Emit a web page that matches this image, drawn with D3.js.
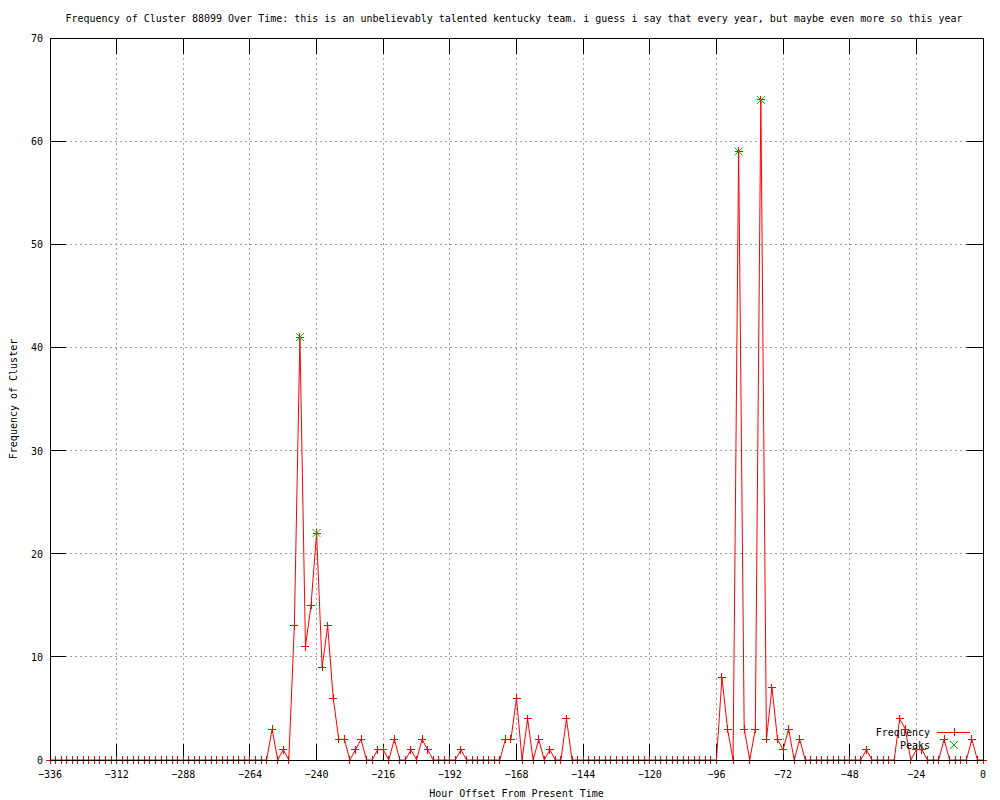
<!DOCTYPE html>
<html>
<head>
<meta charset="utf-8">
<script src="https://cdn.jsdelivr.net/npm/d3@7"></script>
<style>
    body { margin: 0; background: #fff; }
    text { font-family: "DejaVu Sans Mono", monospace; font-size: 10px; fill: #000; }
</style>
</head>
<body>
<div id="chart"></div>
<script>

/* hour offsets, one every 2 hours from -336 to 0 */
var hourStart = -336, hourStep = 2;

/* frequency per bin, 12 bins (24 h) per row */
var freq = [
    0, 0, 0, 0, 0, 0, 0, 0, 0, 0, 0, 0,        // -336 .. -314
    0, 0, 0, 0, 0, 0, 0, 0, 0, 0, 0, 0,        // -312 .. -290
    0, 0, 0, 0, 0, 0, 0, 0, 0, 0, 0, 0,        // -288 .. -266
    0, 0, 0, 0, 3, 0, 1, 0, 13, 41, 11, 15,    // -264 .. -242
    22, 9, 13, 6, 2, 2, 0, 1, 2, 0, 0, 1,      // -240 .. -218
    1, 0, 2, 0, 0, 1, 0, 2, 1, 0, 0, 0,        // -216 .. -194
    0, 0, 1, 0, 0, 0, 0, 0, 0, 0, 2, 2,        // -192 .. -170
    6, 0, 4, 0, 2, 0, 1, 0, 0, 4, 0, 0,        // -168 .. -146
    0, 0, 0, 0, 0, 0, 0, 0, 0, 0, 0, 0,        // -144 .. -122
    0, 0, 0, 0, 0, 0, 0, 0, 0, 0, 0, 0,        // -120 .. -98
    0, 8, 3, 0, 59, 3, 0, 3, 64, 2, 7, 2,      // -96 .. -74
    1, 3, 0, 2, 0, 0, 0, 0, 0, 0, 0, 0,        // -72 .. -50
    0, 0, 0, 1, 0, 0, 0, 0, 0, 4, 3, 0,        // -48 .. -26
    1, 1, 0, 0, 0, 2, 0, 0, 0, 0, 2, 0,        // -24 .. -2
    0                                          // 0
];

var peakHours = [-246, -240, -88, -80];
var peakValues = [41, 22, 59, 64];

var xTicks = [-336, -312, -288, -264, -240, -216, -192, -168, -144, -120, -96, -72, -48, -24, 0];
var yTicks = [0, 10, 20, 30, 40, 50, 60, 70];

var titleText = "Frequency of Cluster 88099 Over Time: this is an unbelievably talented kentucky team. i guess i say that every year, but maybe even more so this year";

render();

function render() {

    var w = 1000, h = 800;
    var margin = {top: 38, right: 17, bottom: 40, left: 50},
        width = w - margin.left - margin.right,
        height = h - margin.top - margin.bottom;
    var tickLen = 16;

    var data = freq.map(function (v, i) {
        return {hour: hourStart + i * hourStep, value: v};
    });
    var peaks = peakHours.map(function (hr, i) {
        return {hour: hr, value: peakValues[i]};
    });

    var x = d3.scaleLinear().domain([-336, 0]).range([margin.left, margin.left + width]);
    var y = d3.scaleLinear().domain([0, 70]).range([margin.top + height, margin.top]);

    var svg = d3.select("#chart").append("svg")
        .attr("width", w)
        .attr("height", h);

    /* grid */
    var grid = svg.append("g")
        .attr("stroke", "#a0a0a0")
        .attr("stroke-dasharray", "2,3")
        .attr("shape-rendering", "crispEdges");

    grid.selectAll(".gx")
        .data(xTicks.slice(1, -1))
        .enter().append("line")
        .attr("x1", function (d) { return x(d); })
        .attr("x2", function (d) { return x(d); })
        .attr("y1", y(0))
        .attr("y2", y(70));

    grid.selectAll(".gy")
        .data(yTicks.slice(1, -1))
        .enter().append("line")
        .attr("x1", x(-336))
        .attr("x2", x(0))
        .attr("y1", function (d) { return y(d); })
        .attr("y2", function (d) { return y(d); });

    /* axes with mirrored ticks, gnuplot style */
    var axisG = svg.append("g")
        .attr("stroke", "#000")
        .attr("shape-rendering", "crispEdges");

    axisG.selectAll(".tb")
        .data(xTicks)
        .enter().append("line")
        .attr("x1", function (d) { return x(d); })
        .attr("x2", function (d) { return x(d); })
        .attr("y1", y(0))
        .attr("y2", y(0) - tickLen);

    axisG.selectAll(".tt")
        .data(xTicks)
        .enter().append("line")
        .attr("x1", function (d) { return x(d); })
        .attr("x2", function (d) { return x(d); })
        .attr("y1", y(70))
        .attr("y2", y(70) + tickLen);

    axisG.selectAll(".tl")
        .data(yTicks)
        .enter().append("line")
        .attr("x1", x(-336))
        .attr("x2", x(-336) + tickLen)
        .attr("y1", function (d) { return y(d); })
        .attr("y2", function (d) { return y(d); });

    axisG.selectAll(".tr")
        .data(yTicks)
        .enter().append("line")
        .attr("x1", x(0))
        .attr("x2", x(0) - tickLen)
        .attr("y1", function (d) { return y(d); })
        .attr("y2", function (d) { return y(d); });

    svg.selectAll(".xlab")
        .data(xTicks)
        .enter().append("text")
        .attr("x", function (d) { return x(d); })
        .attr("y", y(0) + 18)
        .attr("text-anchor", "middle")
        .text(function (d) { return d < 0 ? "\u2212" + (-d) : d; });

    svg.selectAll(".ylab")
        .data(yTicks)
        .enter().append("text")
        .attr("x", x(-336) - 7)
        .attr("y", function (d) { return y(d) + 4; })
        .attr("text-anchor", "end")
        .text(function (d) { return d; });

    /* frequency line */
    var line = d3.line()
        .x(function (d) { return x(d.hour); })
        .y(function (d) { return y(d.value); });

    svg.append("path")
        .datum(data)
        .attr("d", line)
        .attr("fill", "none")
        .attr("stroke", "#ff0000")
        .attr("stroke-width", 1);

    var s = 4;
    var plus = function (px, py) {
        return "M" + (px - s) + "," + py + "H" + (px + s) + "M" + px + "," + (py - s) + "V" + (py + s);
    };
    var cross = function (px, py) {
        return "M" + (px - s) + "," + (py - s) + "L" + (px + s) + "," + (py + s) +
            "M" + (px - s) + "," + (py + s) + "L" + (px + s) + "," + (py - s);
    };

    svg.append("g")
        .selectAll("path")
        .data(data)
        .enter().append("path")
        .attr("d", function (d) { return plus(x(d.hour), y(d.value)); })
        .attr("stroke", "#ff0000")
        .attr("shape-rendering", "crispEdges");

    svg.append("g")
        .selectAll("path")
        .data(peaks)
        .enter().append("path")
        .attr("d", function (d) { return cross(x(d.hour), y(d.value)); })
        .attr("stroke", "#00c000");

    /* border */
    svg.append("rect")
        .attr("x", x(-336))
        .attr("y", y(70))
        .attr("width", x(0) - x(-336))
        .attr("height", y(0) - y(70))
        .attr("fill", "none")
        .attr("stroke", "#000")
        .attr("shape-rendering", "crispEdges");

    /* titles */
    svg.append("text")
        .attr("x", 514)
        .attr("y", 22)
        .attr("text-anchor", "middle")
        .text(titleText);

    svg.append("text")
        .attr("x", (x(-336) + x(0)) / 2)
        .attr("y", 797)
        .attr("text-anchor", "middle")
        .text("Hour Offset From Present Time");

    svg.append("text")
        .attr("transform", "translate(17," + ((y(0) + y(70)) / 2) + ") rotate(-90)")
        .attr("text-anchor", "middle")
        .text("Frequency of Cluster");

    /* legend */
    var legend = svg.append("g");
    legend.append("text")
        .attr("x", 930)
        .attr("y", 736)
        .attr("text-anchor", "end")
        .text("Frequency");
    legend.append("line")
        .attr("x1", 937).attr("x2", 970)
        .attr("y1", 732).attr("y2", 732)
        .attr("stroke", "#ff0000")
        .attr("shape-rendering", "crispEdges");
    legend.append("path")
        .attr("d", plus(954, 732))
        .attr("stroke", "#ff0000")
        .attr("shape-rendering", "crispEdges");
    legend.append("text")
        .attr("x", 930)
        .attr("y", 749)
        .attr("text-anchor", "end")
        .text("Peaks");
    legend.append("path")
        .attr("d", cross(954, 745))
        .attr("stroke", "#00c000");
}
</script>
</body>
</html>
